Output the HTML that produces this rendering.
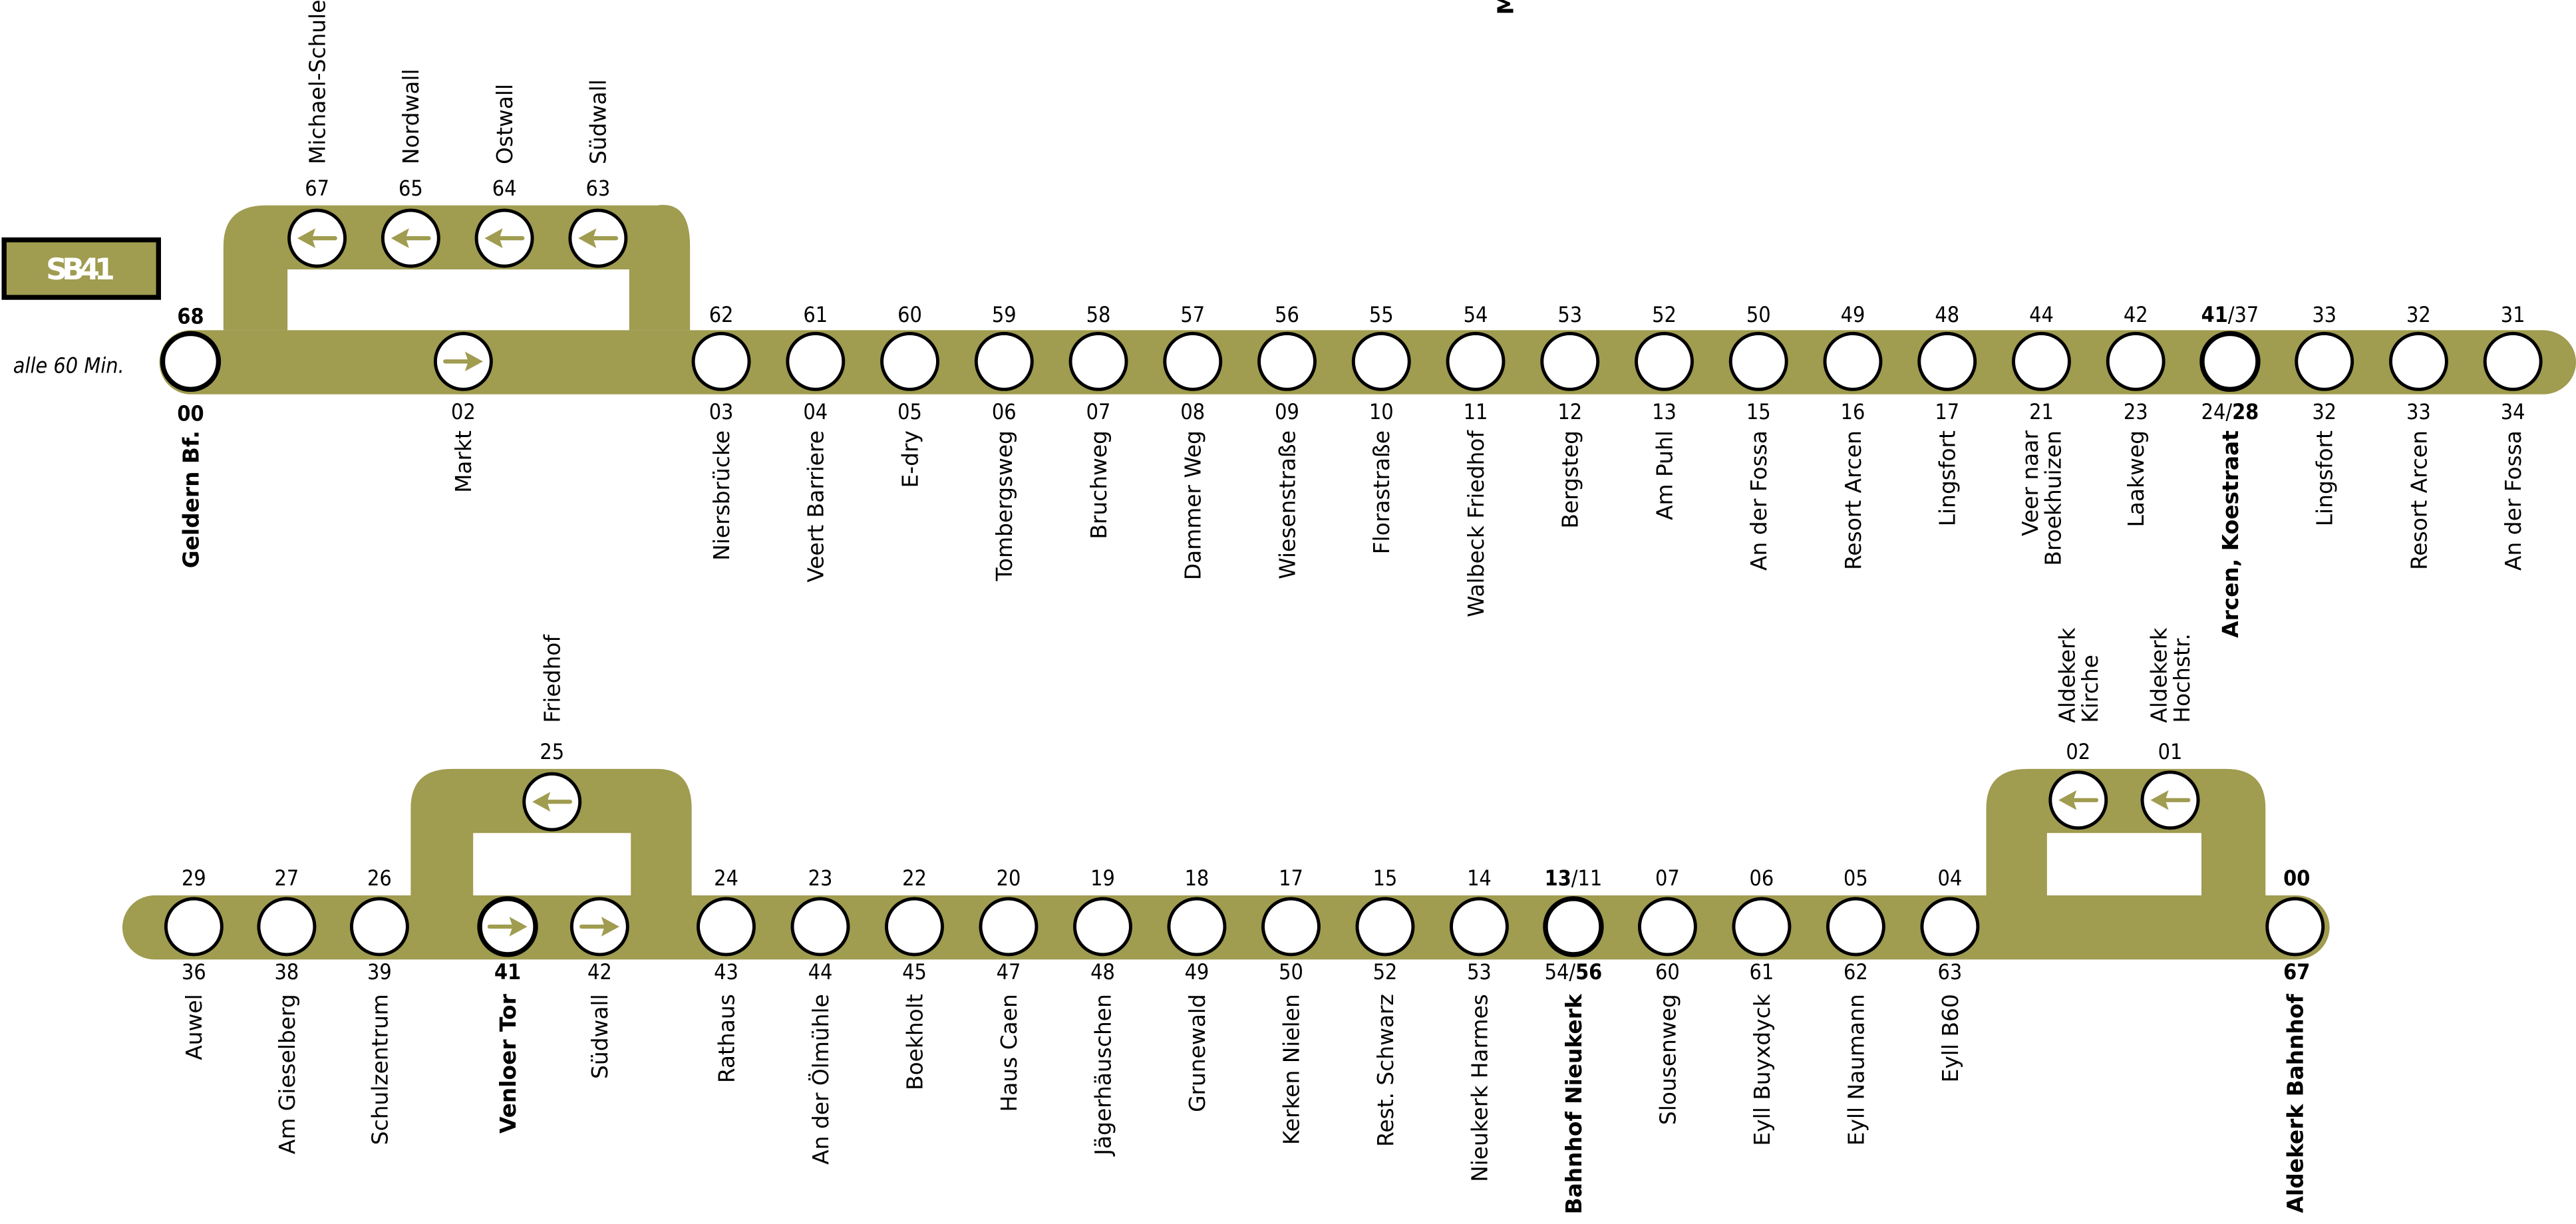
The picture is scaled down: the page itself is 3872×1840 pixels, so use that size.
<!DOCTYPE html>
<html><head><meta charset="utf-8"><style>
html,body{margin:0;padding:0;background:#fff;}
svg{display:block;}
text{font-family:"DejaVu Sans","Liberation Sans",sans-serif;fill:#000;}
.num{font-family:"DejaVu Sans Condensed","DejaVu Sans","Liberation Sans",sans-serif;font-size:13px;}
.nm{font-size:13.3px;}
</style></head><body>
<svg id="map" width="3872" height="1840" viewBox="0 0 1568 745" preserveAspectRatio="none" xmlns="http://www.w3.org/2000/svg">
<g id="bands"></g>
<g id="stops"></g>
<g id="labels"></g>
</svg>
<script>
const OL='#a09c50';
// top row main stations (from Niersbrücke)
const topNames=["Niersbrücke","Veert Barriere","E-dry","Tombergsweg","Bruchweg","Dammer Weg","Wiesenstraße","Florastraße","Walbeck Friedhof","Bergsteg","Am Puhl","An der Fossa","Resort Arcen","Lingsfort","Veer naar|Broekhuizen","Laakweg","*Arcen, Koestraat","Lingsfort","Resort Arcen","An der Fossa"];
const topUp=["62","61","60","59","58","57","56","55","54","53","52","50","49","48","44","42","*41/37","33","32","31"];
const topDown=["03","04","05","06","07","08","09","10","11","12","13","15","16","17","21","23","24/*28","32","33","34"];
// bottom row main stations (from Rathaus)
const botNames=["Rathaus","An der Ölmühle","Boekholt","Haus Caen","Jägerhäuschen","Grunewald","Kerken Nielen","Rest. Schwarz","Nieukerk Harmes","*Bahnhof Nieukerk","Slousenweg","Eyll Buyxdyck","Eyll Naumann","Eyll B60"];
const botUp=["24","23","22","20","19","18","17","15","14","*13/11","07","06","05","04"];
const botDown=["43","44","45","47","48","49","50","52","53","54/*56","60","61","62","63"];
const leftNames=["Auwel","Am Gieselberg","Schulzentrum"];
const leftUp=["29","27","26"];
const leftDown=["36","38","39"];
const loop1Names=["Michael-Schule","Nordwall","Ostwall","Südwall"];
const loop1Times=["67","65","64","63"];

const NS='http://www.w3.org/2000/svg';
const bands=document.getElementById('bands'),stops=document.getElementById('stops'),labels=document.getElementById('labels');
function mk(tag,attrs,parent){const e=document.createElementNS(NS,tag);for(const k in attrs)e.setAttribute(k,attrs[k]);parent.appendChild(e);return e;}
function richText(el,s){
  const parts=s.split('/');
  parts.forEach((p,i)=>{
    if(i>0){const sl=document.createElementNS(NS,'tspan');sl.textContent='/';el.appendChild(sl);}
    const t=document.createElementNS(NS,'tspan');
    if(p[0]==='*'){t.setAttribute('font-weight','bold');p=p.slice(1);}
    t.textContent=p;el.appendChild(t);
  });
}
function num(x,y,s,name){
  const t=mk('text',{x:x,y:y,'text-anchor':'middle','class':'num'},labels);
  
  
  richText(t,s);
}
function vname(x,y,s,anchor,name){
  let bold=false;if(s[0]==='*'){bold=true;s=s.slice(1);}
  const lines=s.split('|');
  const g=mk('g',{},labels);
  
  
  lines.forEach((ln,i)=>{
    const dx=(i-(lines.length-1)/2)*14;
    const t=mk('text',{x:0,y:0,'text-anchor':anchor,'class':'nm',transform:`translate(${x+4.8+dx},${y}) rotate(-90)`},g);
    if(bold)t.setAttribute('font-weight','bold');
    t.textContent=ln;
  });
}
function stop(x,y,bold,arrow,name){
  const c=mk('circle',{cx:x,cy:y,r:17,fill:'#fff',stroke:'#000','stroke-width':bold?3:2},stops);
  
  
  if(arrow){
    const d=arrow==='left'?-1:1;
    const a=mk('g',{},stops);
    
    
    mk('line',{x1:x-11*d,y1:y,x2:x+3*d,y2:y,stroke:OL,'stroke-width':2.5,'stroke-linecap':'round'},a);
    mk('path',{d:`M${x+12*d},${y} L${x+1*d},${y-6} L${x+3*d},${y} L${x+1*d},${y+6} Z`,fill:OL},a);
  }
}
function band(d,name){const p=mk('path',{d:d,fill:OL},bands);}

const T={y:220,x0:439,dx:57.4};
band(`M116,201 H1548 A20,19.5 0 0 1 1548,240 H116 A19,19.5 0 0 1 116,201 Z`,'top-route-band');
band(`M136,201 V150 Q136,125 162,125 H400 Q420,122 420,150 V201 H383 V164 H175 V201 Z`,'top-loop-band');
stop(116,T.y,true,null,'stop-geldern-bf');
num(116,197,'*68','time-geldern-arr');num(116,256,'*00','time-geldern-dep');
vname(116,262,'*Geldern Bf.','end','name-geldern-bf');
stop(282,T.y,false,'right','stop-markt');
num(282,255,'02','time-markt');vname(282,262,'Markt','end','name-markt');
loop1Names.forEach((n,i)=>{const x=193+i*57;
  stop(x,145,false,'left','stop-'+n.toLowerCase());
  num(x,119,loop1Times[i],'time-'+n.toLowerCase());
  vname(x,100,n,'start','name-'+n.toLowerCase());
});
topNames.forEach((n,i)=>{const x=T.x0+i*T.dx;
  stop(x,T.y,n[0]==='*','', 'stop-top-'+i);
  num(x,196,topUp[i],'time-top-up-'+i);
  num(x,255,topDown[i],'time-top-down-'+i);
  vname(x,262,n,'end','name-top-'+i);
});
(function(){const t=mk('text',{x:0,y:0,'font-weight':'bold','font-size':'13.3',transform:'translate(921,9) rotate(-90)'},labels);t.textContent='Markt';})();
(function(){const g=mk('g',{},labels);
 mk('rect',{x:2.5,y:146,width:94,height:35,fill:OL,stroke:'#000','stroke-width':3},g);
 const t=mk('text',{x:49,y:170,'text-anchor':'middle','font-weight':'bold','font-size':'18',style:'fill:#fff',textLength:'42','font-family':'DejaVu Sans Condensed'},g);t.textContent='SB41';
 const f=mk('text',{x:8,y:227,'font-style':'italic','font-size':'13','class':'num'},labels);f.textContent='alle 60 Min.';
})();

const B={y:564,x0:442,dx:57.3};
band(`M94,545 H1398 A20,19.5 0 0 1 1398,584 H94 A19.5,19.5 0 0 1 94,545 Z`,'bottom-route-band');
band(`M250,545 V492 Q250,468 275,468 H400 Q421,468 421,492 V545 H384 V507 H288 V545 Z`,'friedhof-loop-band');
band(`M1209,545 V492 Q1209,468 1234,468 H1355 Q1379,468 1379,492 V545 H1340 V507 H1246 V545 Z`,'aldekerk-loop-band');
leftNames.forEach((n,i)=>{const x=118+i*56.5;
  stop(x,B.y,false,'','stop-'+n.toLowerCase().replace(/ /g,'-'));
  num(x,539,leftUp[i],'time-left-up-'+i);num(x,596,leftDown[i],'time-left-down-'+i);
  vname(x,605,n,'end','name-'+n.toLowerCase().replace(/ /g,'-'));
});
stop(309,B.y,true,'right','stop-venloer-tor');num(309,596,'*41','time-venloer-tor');vname(309,605,'*Venloer Tor','end','name-venloer-tor');
stop(365,B.y,false,'right','stop-suedwall-2');num(365,596,'42','time-suedwall-2');vname(365,605,'Südwall','end','name-suedwall-2');
stop(336,488,false,'left','stop-friedhof');num(336,462,'25','time-friedhof');vname(336,440,'Friedhof','start','name-friedhof');
botNames.forEach((n,i)=>{const x=B.x0+i*B.dx;
  stop(x,B.y,n[0]==='*','','stop-bot-'+i);
  num(x,539,botUp[i],'time-bot-up-'+i);num(x,596,botDown[i],'time-bot-down-'+i);
  vname(x,605,n,'end','name-bot-'+i);
});
stop(1265,487,false,'left','stop-aldekerk-kirche');num(1265,462,'02','time-aldekerk-kirche');vname(1265,440,'Aldekerk|Kirche','start','name-aldekerk-kirche');
stop(1321,487,false,'left','stop-aldekerk-hochstr');num(1321,462,'01','time-aldekerk-hochstr');vname(1321,440,'Aldekerk|Hochstr.','start','name-aldekerk-hochstr');
stop(1397,B.y,false,'','stop-aldekerk-bahnhof');num(1398,539,'*00','time-aldekerk-arr');num(1398,596,'*67','time-aldekerk-dep');
vname(1397,605,'*Aldekerk Bahnhof','end','name-aldekerk-bahnhof');
</script>
</body></html>
